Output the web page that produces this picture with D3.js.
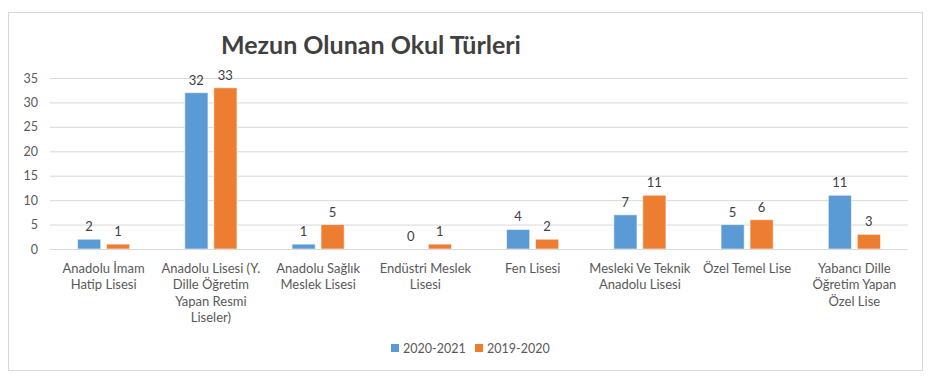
<!DOCTYPE html>
<html><head><meta charset="utf-8">
<script src="https://cdn.jsdelivr.net/npm/d3@7"></script>
<style>body{margin:0;background:#fff;}svg{display:block;font-family:Lato,"Open Sans",sans-serif;}</style>
</head><body><svg id="c" width="935" height="387"></svg>
<script>
const categories = ["Anadolu İmam Hatip Lisesi","Anadolu Lisesi (Y. Dille Öğretim Yapan Resmi Liseler)","Anadolu Sağlık Meslek Lisesi","Endüstri Meslek Lisesi","Fen Lisesi","Mesleki Ve Teknik Anadolu Lisesi","Özel Temel Lise","Yabancı Dille Öğretim Yapan Özel Lise"];
const categoryLines = [["Anadolu İmam","Hatip Lisesi"],["Anadolu Lisesi (Y.","Dille Öğretim","Yapan Resmi","Liseler)"],["Anadolu Sağlık","Meslek Lisesi"],["Endüstri Meslek","Lisesi"],["Fen Lisesi"],["Mesleki Ve Teknik","Anadolu Lisesi"],["Özel Temel Lise"],["Yabancı Dille","Öğretim Yapan","Özel Lise"]];
const seriesNames = ["2020-2021","2019-2020"];
const values2020_2021 = [2,32,1,0,4,7,5,11];
const values2019_2020 = [1,33,5,1,2,11,6,3];
const yTicks = [0,5,10,15,20,25,30,35];
const colors = ["#5B9BD5","#ED7D31"];
const title = "Mezun Olunan Okul Türleri";

const svg = d3.select("#c");
svg.append("rect").attr("x",8.5).attr("y",12.5).attr("width",914).attr("height",358).attr("fill","#fff").attr("stroke","#d9d9d9");

const mLeft=50, mRight=908, mTop=78, mBottom=249;
const x = d3.scaleBand().domain(categories).range([mLeft,mRight]);
const x1 = d3.scaleBand().domain(seriesNames).range([0,x.bandwidth()]).paddingInner(0.2).paddingOuter(0.95);
const y = d3.scaleLinear().domain([0,35]).range([mBottom,mTop]);

svg.append("text").attr("x",371).attr("y",54).attr("text-anchor","middle")
  .attr("font-size",25).attr("font-weight","bold").attr("fill","#404040").text(title);

const yAxis = svg.append("g").attr("transform",`translate(${mLeft},0)`)
  .call(d3.axisLeft(y).tickValues(yTicks).tickSize(-(mRight-mLeft)).tickPadding(12));
yAxis.select(".domain").remove();
yAxis.selectAll("line").attr("stroke","#d9d9d9");
yAxis.selectAll("text").attr("fill","#595959").attr("font-size",12.5).attr("font-family","Lato,'Open Sans',sans-serif");

const data = categories.map((c,i)=>({c, vals:[values2020_2021[i], values2019_2020[i]], lines:categoryLines[i]}));
const g = svg.selectAll(".cat").data(data).join("g").attr("transform",d=>`translate(${x(d.c)},0)`);
g.selectAll("rect").data(d=>d.vals.map((v,j)=>({v,s:seriesNames[j],j}))).join("rect")
  .attr("x",d=>x1(d.s)).attr("width",x1.bandwidth())
  .attr("y",d=>y(d.v)).attr("height",d=>y(0)-y(d.v))
  .attr("fill",d=>colors[d.j]).attr("stroke","#fff").attr("stroke-opacity",0.6).attr("stroke-width",1);
g.selectAll(".lbl").data(d=>d.vals.map((v,j)=>({v,s:seriesNames[j],j}))).join("text")
  .attr("x",d=>x1(d.s)+x1.bandwidth()/2).attr("y",d=>y(d.v)-8)
  .attr("text-anchor","middle").attr("font-size",13).attr("fill","#404040").text(d=>d.v);

svg.append("line").attr("x1",mLeft).attr("x2",mRight).attr("y1",mBottom+0.5).attr("y2",mBottom+0.5).attr("stroke","#d9d9d9");

g.each(function(d){
  const t = d3.select(this).append("text").attr("text-anchor","middle").attr("font-size",13).attr("fill","#595959");
  d.lines.forEach((ln,k)=>t.append("tspan").attr("x",x.bandwidth()/2).attr("y",273+k*16.4).text(ln));
});

const leg = svg.append("g");
const legX=[391,475];
seriesNames.forEach((s,i)=>{
  leg.append("rect").attr("x",legX[i]).attr("y",344).attr("width",8).attr("height",8).attr("fill",colors[i]);
  leg.append("text").attr("x",legX[i]+12).attr("y",352.5).attr("font-size",12.5).attr("fill","#595959").text(s);
});
</script></body></html>
